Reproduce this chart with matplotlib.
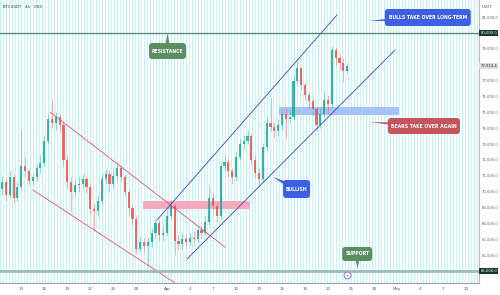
import numpy as np
import matplotlib
matplotlib.use('Agg')
import matplotlib.pyplot as plt
from matplotlib.patches import Rectangle, Polygon, FancyBboxPatch
from matplotlib.transforms import IdentityTransform

# ---------------- data (prices in thousands USDT, days relative to Apr 1) -------------
first_candle_day = -21.5
candle_step_days = 0.5
opens = [70.2, 70.6, 69.8, 70.9, 69.6, 70.3, 71.6, 71.3, 70.7, 70.9,
         71.5, 71.8, 73.2, 74.6, 74.3, 74.7, 74.2, 72.0, 70.6, 70.0,
         70.4, 70.5, 70.8, 70.3, 68.9, 68.8, 69.4, 70.8, 71.1, 70.5,
         71.0, 71.5, 70.9, 70.0, 69.0, 68.3, 66.4, 66.8, 66.6, 66.8,
         67.4, 68.0, 67.3, 67.4, 68.5, 69.1, 66.9, 66.7, 67.0, 66.8,
         67.1, 67.0, 67.6, 67.4, 68.1, 69.6, 69.1, 68.5, 71.6, 71.9,
         71.3, 70.9, 72.2, 73.0, 73.2, 73.5, 72.0, 71.2, 70.8, 72.8,
         74.3, 74.1, 73.8, 74.2, 74.9, 74.6, 74.7, 77.0, 77.8, 76.7,
         76.1, 75.7, 75.2, 74.2, 74.9, 75.8, 75.5, 78.9, 78.4, 78.1,
         77.6]
closes = [70.6, 69.8, 70.9, 69.6, 70.3, 71.6, 71.3, 70.7, 70.9, 71.5,
          71.8, 73.2, 74.6, 74.3, 74.7, 74.2, 72.0, 70.6, 70.0, 70.4,
          70.5, 70.8, 70.3, 68.9, 68.8, 69.4, 70.8, 71.1, 70.5, 71.0,
          71.5, 70.9, 70.0, 69.0, 68.3, 66.4, 66.8, 66.6, 66.8, 67.4,
          68.0, 67.3, 67.4, 68.5, 69.1, 66.9, 66.7, 67.0, 66.8, 67.1,
          67.0, 67.6, 67.4, 68.1, 69.6, 69.1, 68.5, 71.6, 71.9, 71.3,
          70.9, 72.2, 73.0, 73.2, 73.5, 72.0, 71.2, 70.8, 72.8, 74.3,
          74.1, 73.8, 74.2, 74.9, 74.6, 74.7, 77.0, 77.8, 76.7, 76.1,
          75.7, 75.2, 74.2, 74.9, 75.8, 75.5, 78.9, 78.4, 78.1, 77.6,
          77.9]
highs = [71.0, 70.9, 71.3, 71.1, 70.6, 73.9, 72.2, 71.5, 71.2, 71.8,
         72.3, 73.6, 74.9, 75.8, 75.0, 74.9, 74.4, 72.3, 70.9, 70.8,
         71.0, 71.1, 71.0, 70.5, 69.3, 69.8, 71.1, 71.4, 71.3, 71.4,
         71.9, 71.7, 71.1, 70.2, 69.2, 68.5, 67.2, 67.1, 67.1, 67.7,
         68.3, 68.2, 67.9, 68.9, 69.5, 69.3, 67.3, 67.4, 67.3, 67.4,
         67.5, 67.9, 67.9, 68.5, 70.4, 69.9, 69.3, 71.9, 72.3, 72.1,
         71.5, 72.5, 73.3, 73.6, 73.9, 73.7, 72.3, 71.5, 73.1, 74.7,
         75.9, 74.4, 74.6, 75.2, 75.3, 75.1, 77.4, 78.3, 77.9, 76.9,
         76.3, 75.9, 75.4, 75.3, 76.2, 76.1, 79.2, 79.1, 78.7, 78.4,
         78.1]
lows = [69.8, 69.4, 69.6, 69.3, 69.4, 70.1, 70.9, 70.4, 70.4, 70.7,
        71.2, 71.6, 73.0, 74.0, 73.9, 73.8, 71.6, 70.2, 68.8, 69.7,
        70.0, 70.2, 69.9, 68.6, 67.5, 68.5, 69.2, 70.5, 70.0, 70.2,
        70.7, 70.6, 69.7, 68.6, 67.9, 66.1, 66.2, 66.2, 65.3, 66.5,
        67.1, 66.9, 66.9, 67.2, 68.2, 66.0, 66.3, 66.4, 66.5, 66.6,
        66.7, 66.8, 67.1, 67.2, 67.9, 68.8, 68.1, 68.3, 71.3, 70.9,
        70.5, 70.7, 72.0, 72.7, 73.0, 71.7, 70.9, 70.4, 70.6, 72.6,
        73.8, 73.4, 73.5, 73.9, 73.4, 74.3, 74.5, 76.8, 76.4, 75.8,
        75.3, 74.8, 73.8, 74.0, 74.7, 74.9, 75.3, 78.0, 77.7, 76.9,
        77.4]

x_tick_days = [-19, -16, -13, -10, -7, -4, 0, 3, 6, 9, 12, 15, 18, 21, 24, 27, 30, 33, 36, 39]
x_tick_labels = ['13', '16', '19', '22', '25', '28', 'Apr', '4', '7', '10',
                 '13', '16', '19', '22', '25', '28', 'May', '4', '7', '10']
price_ticks = [65000, 66000, 67000, 68000, 69000, 70000, 71000, 72000,
               73000, 74000, 75000, 76000, 77000, 78000, 79000, 80000, 81000]

resistance_level = 80000
support_level = 65000
last_price = 77914.4

# trend lines: (day, price) endpoints
red_upper = ([-15.25, 7.56], [75022, 66515])
red_lower = ([-17.47, 1.04], [70107, 64250])
blue_upper = ([-1.30, 22.16], [68217, 81134])
blue_lower = ([2.61, 29.73], [65759, 78929])

# zones: (day start, day end, price low, price high)
pink_zone = (-3.13, 10.82, 68910, 69410)
blue_zone = (14.6, 30.25, 74830, 75340)

# callouts: text, centre (day, price), pointer tip (day, price)
callouts = [
    ('RESISTANCE', (0.07, 78866), (0.07, 80000), '#5b8f62', (37, 16)),
    ('BULLS TAKE OVER LONG-TERM', (34.0, 80977), (26.3, 80756), '#3f5fe3', (86, 17)),
    ('BEARS TAKE OVER AGAIN', (33.5, 74140), (26.47, 74392), '#c5545e', (72, 16)),
    ('BULLISH', (16.9, 70170), (13.8, 70926), '#3f5fe3', (27, 18)),
    ('SUPPORT', (24.8, 66075), (24.85, 65150), '#5b8f62', (30, 14)),
]
alert_point = (23.5, 64720)

# ---------------- figure -------------
W, H = 500, 295
fig = plt.figure(figsize=(W / 100, H / 100), dpi=100)
fig.patch.set_facecolor('white')
ax = fig.add_axes([0, 12 / H, 479 / W, 283 / H])
ax.set_facecolor('white')
ax.set_xlim(-21.77, 40.68)
ax.set_ylim(64247, 82080)

# striped background
for xv in np.arange(-21.77, 40.68, 3 / 7.67):
    ax.axvline(xv, color='#c2f5f5', lw=0.75, zorder=0)

up_col, dn_col = '#26a69a', '#ef5350'
bw = 0.28
for i in range(len(opens)):
    d = first_candle_day + i * candle_step_days
    o, c, h, l = opens[i] * 1000, closes[i] * 1000, highs[i] * 1000, lows[i] * 1000
    col = up_col if c >= o else dn_col
    ax.vlines(d, l, h, color=col, lw=0.45, zorder=3, alpha=0.7)
    ax.add_patch(Rectangle((d - bw / 2, min(o, c)), bw, max(abs(c - o), 40),
                           fc=col, ec='none', zorder=3, alpha=0.85))

# zones
ax.add_patch(Rectangle((pink_zone[0], pink_zone[2]), pink_zone[1] - pink_zone[0],
                       pink_zone[3] - pink_zone[2], fc='#f7a6ba', ec='none', zorder=2, alpha=0.95))
ax.add_patch(Rectangle((blue_zone[0], blue_zone[2]), blue_zone[1] - blue_zone[0],
                       blue_zone[3] - blue_zone[2], fc='#a3bff6', ec='none', zorder=2, alpha=0.95))

# lines
for ln in (red_upper, red_lower):
    ax.plot(ln[0], ln[1], color='#ee4b6a', lw=0.6, zorder=4)
for ln in (blue_upper, blue_lower):
    ax.plot(ln[0], ln[1], color='#3346c8', lw=0.6, zorder=4)
ax.axhline(resistance_level, color='#557f7a', lw=0.9, zorder=4)
ax.axhline(support_level, color='#9dbcb5', lw=2.0, zorder=4)

# alert marker
ax.plot(*alert_point, marker='o', ms=5, mfc='white', mec='#7d5fc4', mew=0.6, zorder=5)
ax.text(*alert_point, '⚡', fontsize=2.8, color='#7d5fc4', ha='center', va='center', zorder=6)

# axes style
for s in ['top', 'left']:
    ax.spines[s].set_visible(False)
ax.spines['bottom'].set_color('#9c9cb4')
ax.spines['right'].set_color('#b8b8c8')
ax.spines['bottom'].set_linewidth(0.8)
ax.spines['right'].set_linewidth(0.8)
ax.set_xticks(x_tick_days)
ax.set_xticklabels(x_tick_labels)
ax.tick_params(axis='x', length=0, labelsize=2.9, colors='#555555', pad=3)
ax.yaxis.tick_right()
ax.set_yticks(price_ticks)
ax.set_yticklabels([f'{v:,.1f}' for v in price_ticks])
ax.tick_params(axis='y', length=0, labelsize=2.7, colors='#666666', pad=2)

fig.canvas.draw()
tr = ax.transData

# callouts with pointer
for text, ctr, tip, col, (bwid, bhgt) in callouts:
    cx, cy = tr.transform(ctr)
    tx, ty = tr.transform(tip)
    vx, vy = cx - tx, cy - ty
    n = np.hypot(vx, vy)
    px, py = -vy / n * 3.2, vx / n * 3.2
    tri = Polygon([[tx, ty], [cx + px, cy + py], [cx - px, cy - py]], closed=True,
                  fc=col, ec='none', transform=IdentityTransform(), zorder=6)
    ax.add_patch(tri)
    box = FancyBboxPatch((cx - bwid / 2, cy - bhgt / 2), bwid, bhgt,
                         boxstyle='round,pad=0,rounding_size=3', fc=col, ec='none',
                         transform=IdentityTransform(), zorder=7)
    ax.add_patch(box)
    ax.text(*ctr, text, ha='center', va='center', fontsize=3.3, color='white',
            zorder=8, fontweight='bold')

# price label highlights
def price_box(price, txt, fc, tc):
    ax.text(1.003, price, txt, transform=ax.get_yaxis_transform(), ha='left', va='center',
            fontsize=2.7, color=tc, zorder=10, clip_on=False,
            bbox=dict(boxstyle='square,pad=0.35', fc=fc, ec='none'))

price_box(resistance_level, f'{resistance_level:,.1f}', '#16382e', 'white')
price_box(support_level, f'{support_level:,.1f}', '#16382e', 'white')
price_box(last_price, f'{last_price:,.1f}', '#dcdcdc', '#333333')

fig.text(487 / W, 1 - 7 / H, 'USDT', fontsize=2.8, color='#555555', ha='center', va='center')
fig.text(3 / W, 1 - 7 / H, 'BTCUSDT · 4h · OKX', fontsize=2.8, color='#333333', ha='left', va='center')

fig.savefig('out.png', dpi=100, facecolor='white')
